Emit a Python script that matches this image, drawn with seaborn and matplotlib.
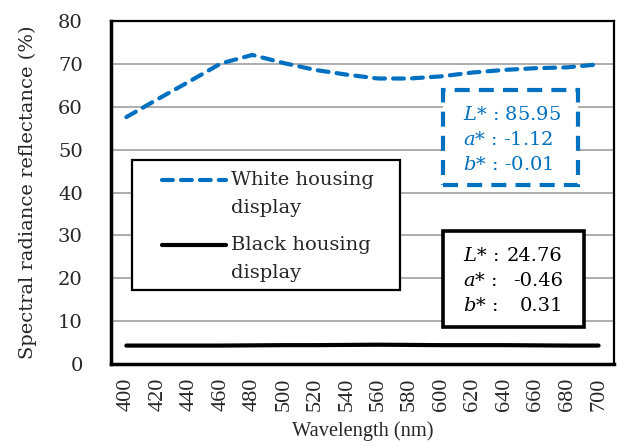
import numpy as np
import pandas as pd
import matplotlib
matplotlib.use("Agg")
import matplotlib.pyplot as plt
from matplotlib.patches import Rectangle
from matplotlib.lines import Line2D
import seaborn as sns

# Spectral data (percent reflectance)
wavelength = [400, 420, 440, 460, 480, 500, 520, 540, 560, 580, 600, 620, 640, 660, 680, 700]
white_reflectance = [57.6, 61.8, 65.9, 70.1, 72.1, 70.2, 68.6, 67.5, 66.6, 66.6, 67.1, 68.0, 68.6, 69.0, 69.2, 69.9]
black_reflectance = [4.3, 4.3, 4.3, 4.3, 4.35, 4.4, 4.4, 4.45, 4.5, 4.45, 4.4, 4.4, 4.4, 4.35, 4.3, 4.3]
series_names = ["White housing\ndisplay", "Black housing\ndisplay"]
white_lab = [("L", "85.95"), ("a", "-1.12"), ("b", "-0.01")]
black_lab = [("L", "24.76"), ("a", "-0.46"), ("b", "0.31")]
y_ticks = [0, 10, 20, 30, 40, 50, 60, 70, 80]

BLUE = "#0070C0"
LW = 3.0
DASHES = [2.6, 1.95]

sns.set_theme(style="white")
plt.rcParams["font.family"] = ["DejaVu Serif"]
plt.rcParams["mathtext.fontset"] = "dejavuserif"

df = pd.DataFrame({
    "Wavelength": wavelength * 2,
    "Reflectance": white_reflectance + black_reflectance,
    "Series": [series_names[0]] * len(wavelength) + [series_names[1]] * len(wavelength),
})

fig = plt.figure(figsize=(6.18, 4.48), dpi=100)
ax = fig.add_axes([0.179, 0.1875, 0.815, 0.7655])

sns.lineplot(data=df[df.Series == series_names[0]], x="Wavelength", y="Reflectance",
             color=BLUE, lw=LW, ax=ax, legend=False)
ax.lines[-1].set_dashes(DASHES)
ax.lines[-1].set_dash_capstyle("round")
sns.lineplot(data=df[df.Series == series_names[1]], x="Wavelength", y="Reflectance",
             color="black", lw=LW, ax=ax, legend=False)
ax.lines[-1].set_solid_capstyle("round")

ax.set_xlim(390, 710)
ax.set_ylim(0, 80)
ax.set_yticks(y_ticks)
ax.set_yticklabels([str(v) for v in y_ticks], fontsize=14)
ax.set_xticks(wavelength)
ax.set_xticklabels([str(v) for v in wavelength], rotation=90, fontsize=16,
                   family="Liberation Serif")
ax.set_xticks(np.arange(390, 711, 20), minor=True)
ax.tick_params(axis="x", which="major", length=0, pad=10)
ax.tick_params(axis="x", which="minor", length=6, width=1.5, direction="out", color="black")
ax.tick_params(axis="y", which="major", length=5, width=2, direction="out", color="black", pad=15)
ax.grid(axis="y", color="#a0a0a0", lw=1.2)
ax.set_axisbelow(True)
for side, sp in ax.spines.items():
    sp.set_color("black")
    sp.set_linewidth(2.5 if side in ("left", "bottom") else 1.6)
    sp.set_visible(True)

ax.set_xlabel("Wavelength (nm)", fontsize=14.7, family="Liberation Serif", labelpad=7)
ax.set_ylabel("Spectral radiance reflectance (%)", fontsize=14, labelpad=15)

# Legend box, each handle aligned with the first line of its label
ax.add_patch(Rectangle((0.042, 0.216), 0.532, 0.379, transform=ax.transAxes,
                       facecolor="white", edgecolor="black", lw=1.6, zorder=5))
legend_rows = [(0.536, Line2D([0.102, 0.229], [0.536, 0.536], color=BLUE, lw=LW,
                              dashes=DASHES, dash_capstyle="round")),
               (0.347, Line2D([0.102, 0.229], [0.347, 0.347], color="black", lw=LW,
                              solid_capstyle="round"))]
for name, (ytop, handle) in zip(series_names, legend_rows):
    handle.set_transform(ax.transAxes)
    handle.set_zorder(6)
    ax.add_line(handle)
    for k, line in enumerate(name.split("\n")):
        ax.text(0.239, ytop - k * 0.0816, line, transform=ax.transAxes, fontsize=14,
                va="center", ha="left", zorder=6)

# CIELAB value boxes
def lab_box(x0, y0, w, h, entries, color, dashed, right_align):
    rect = Rectangle((x0, y0), w, h, transform=ax.transAxes, facecolor="white",
                     edgecolor=color, lw=3 if dashed else 2.6, zorder=5)
    if dashed:
        rect.set_linestyle((0, (3.6, 2.2)))
    ax.add_patch(rect)
    top = y0 + h
    for i, (sym, val) in enumerate(entries):
        yy = top - 0.074 - i * 0.073
        if right_align:
            ax.text(x0 + 0.04, yy, f"${sym}$* :", transform=ax.transAxes, color=color,
                    fontsize=14, va="center", ha="left", zorder=6)
            ax.text(x0 + 0.239, yy, val, transform=ax.transAxes, color=color,
                    fontsize=14, va="center", ha="right", zorder=6)
        else:
            ax.text(x0 + 0.04, yy, f"${sym}$* : {val}", transform=ax.transAxes, color=color,
                    fontsize=14, va="center", ha="left", zorder=6)

lab_box(0.659, 0.522, 0.268, 0.277, white_lab, BLUE, True, False)
lab_box(0.659, 0.108, 0.281, 0.28, black_lab, "black", False, True)

fig.savefig("out.png", dpi=100)
